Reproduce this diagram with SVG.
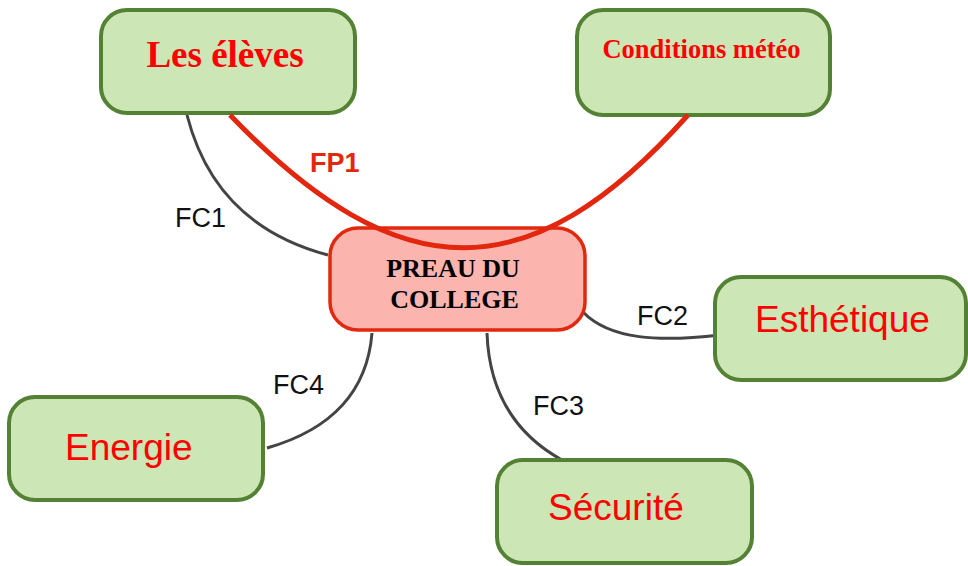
<svg xmlns="http://www.w3.org/2000/svg" width="968" height="566" viewBox="0 0 968 566">
<style>
.box{fill:#cde6b6;stroke:#548235;stroke-width:4}
.main{fill:#fbb4ae;stroke:#e2280e;stroke-width:3.5}
.con{fill:none;stroke:#444;stroke-width:3}
.fp{fill:none;stroke:#e3260e;stroke-width:5}
.lbl{font-family:"Liberation Sans",Arial,sans-serif;font-size:27px;fill:#111}
.serif{font-family:"Liberation Serif","Times New Roman",serif;font-weight:bold}
.sans{font-family:"Liberation Sans",Arial,sans-serif;font-size:37px;fill:#ff0000}
</style>
<rect width="968" height="566" fill="#fff"/>
<g id="connectors">
<path class="con" d="M187,115 Q215,225 328,255"/>
<path class="con" d="M583,312 C610,340 660,342 720,335"/>
<path class="con" d="M487,333 Q490,420 562,460"/>
<path class="con" d="M372,333 Q365,420 267,448"/>
<text class="lbl" x="175" y="227">FC1</text>
<text class="lbl" x="637" y="325">FC2</text>
<text class="lbl" x="533" y="415">FC3</text>
<text class="lbl" x="273" y="394">FC4</text>
</g>
<g id="eleves">
<rect class="box" x="101" y="10" width="254" height="103" rx="26"/>
<text class="serif" x="225" y="67" text-anchor="middle" font-size="37" fill="#ff0000">Les élèves</text>
</g>
<g id="meteo">
<rect class="box" x="577" y="10" width="253" height="105" rx="26"/>
<text class="serif" x="701.5" y="58" text-anchor="middle" font-size="26.5" fill="#ff0000">Conditions météo</text>
</g>
<g id="preau">
<rect class="main" x="330" y="228" width="255" height="102" rx="28"/>
<text class="serif" x="453" y="277" text-anchor="middle" font-size="26" fill="#000">PREAU DU</text>
<text class="serif" x="454.5" y="308" text-anchor="middle" font-size="26" fill="#000">COLLEGE</text>
</g>
<g id="esthetique">
<rect class="box" x="715" y="277" width="251" height="103" rx="26"/>
<text class="sans" x="755" y="332">Esthétique</text>
</g>
<g id="energie">
<rect class="box" x="9" y="397" width="254" height="103" rx="26"/>
<text class="sans" x="65" y="460">Energie</text>
</g>
<g id="securite">
<rect class="box" x="497" y="460" width="255" height="103" rx="26"/>
<text class="sans" x="548" y="520">Sécurité</text>
</g>
<g id="fp1">
<path class="fp" d="M230,115 C400,292 530,292 688,115"/>
<text x="310" y="172" font-family="'Liberation Sans',Arial,sans-serif" font-weight="bold" font-size="27" fill="#e3260e">FP1</text>
</g>
</svg>
